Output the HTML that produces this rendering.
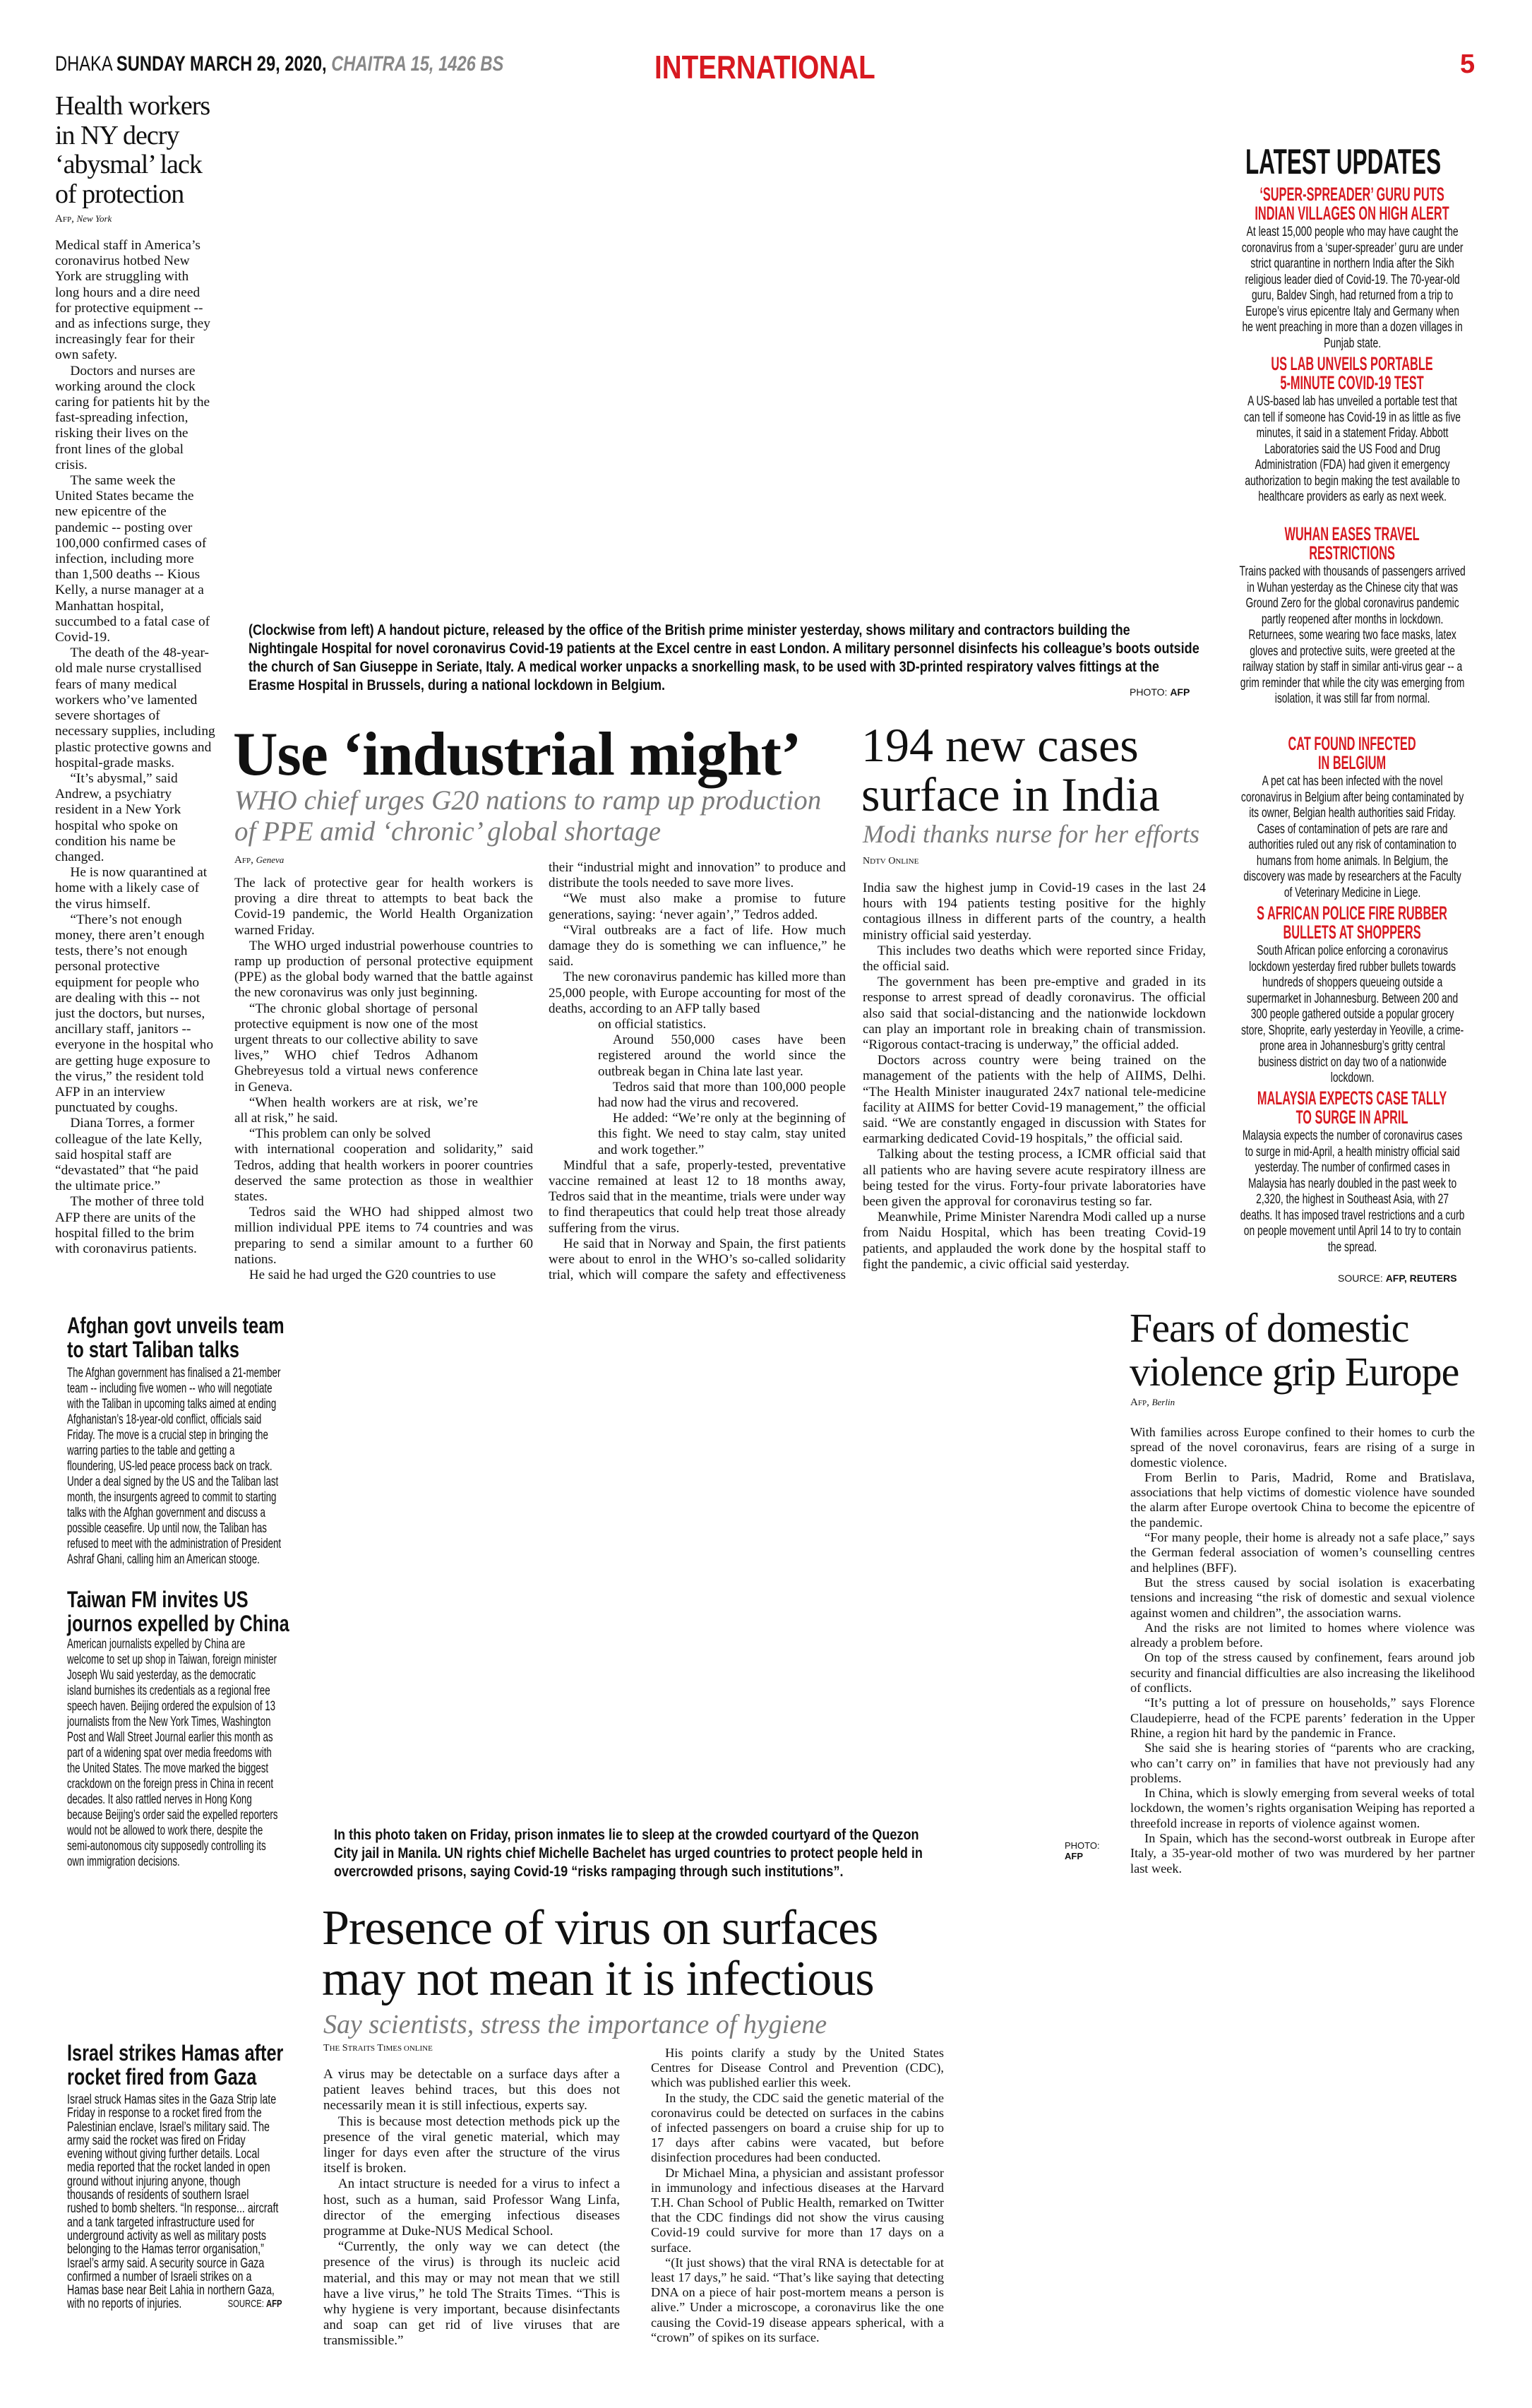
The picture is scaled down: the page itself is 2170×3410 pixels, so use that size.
<!DOCTYPE html>
<html><head><meta charset="utf-8">
<style>
*{margin:0;padding:0;box-sizing:border-box}
body{width:2170px;height:3410px;background:#fff;position:relative;overflow:hidden;color:#111}
.a{position:absolute}
.ser{font-family:"Liberation Serif",serif}
.san{font-family:"Liberation Sans",sans-serif}
.sx{display:block;transform-origin:0 0}
.body{font-family:"Liberation Serif",serif;font-size:19px;line-height:22.2px;text-align:justify;overflow:hidden}
.body p{text-indent:1.1em}
.body p.n{text-indent:0}
.luh{color:#d71920;font-weight:bold;font-size:27px;line-height:27px;text-align:center;font-family:"Liberation Sans",sans-serif;width:496px;transform:scaleX(0.605)}
.lub{font-family:"Liberation Sans",sans-serif;font-size:19px;line-height:22.5px;text-align:center;width:440px;transform:scaleX(0.73);margin-top:2px}
.cap{font-family:"Liberation Sans",sans-serif;font-weight:bold;font-size:21px;line-height:26px;white-space:nowrap;transform:scaleX(0.86);transform-origin:0 0}
.brief{font-family:"Liberation Sans",sans-serif;font-size:19px;line-height:22px;width:436px;transform:scaleX(0.7);transform-origin:0 0}
.bh{font-family:"Liberation Sans",sans-serif;font-weight:bold;font-size:32px;line-height:34px;white-space:nowrap;transform:scaleX(0.79);transform-origin:0 0}
.by{font-family:"Liberation Serif",serif;font-size:15px}
.by i{font-size:13px}
.sub{font-family:"Liberation Serif",serif;font-style:italic;color:#7a7a7a}
</style></head><body>

<!-- header -->
<div class="a san" style="left:78px;top:74px;font-size:30px;white-space:nowrap;transform:scaleX(0.79);transform-origin:0 0">DHAKA <b>SUNDAY MARCH 29, 2020,</b> <b><i style="color:#888">CHAITRA 15, 1426 BS</i></b></div>
<div class="a san" style="left:927px;top:68px;font-size:46px;font-weight:bold;color:#d71920;white-space:nowrap;transform:scaleX(0.84);transform-origin:0 0">INTERNATIONAL</div>
<div class="a san" style="left:2068px;top:70px;font-size:38px;font-weight:bold;color:#d71920">5</div>

<!-- left column -->
<div class="a ser" style="left:78px;top:130px;width:300px;font-size:38px;line-height:41.5px;letter-spacing:-1px">Health workers<br>in NY decry<br>‘abysmal’ lack<br>of protection</div>
<div class="a by" style="left:78px;top:302px">A<span style="font-size:11px">FP</span>, <i>New York</i></div>
<div class="a body" style="left:78px;top:337px;width:228px;height:1480px;text-align:left;font-size:19.4px">
<p class="n">Medical staff in America’s coronavirus hotbed New York are struggling with long hours and a dire need for protective equipment -- and as infections surge, they increasingly fear for their own safety.</p>
<p>Doctors and nurses are working around the clock caring for patients hit by the fast-spreading infection, risking their lives on the front lines of the global crisis.</p>
<p>The same week the United States became the new epicentre of the pandemic -- posting over 100,000 confirmed cases of infection, including more than 1,500 deaths -- Kious Kelly, a nurse manager at a Manhattan hospital, succumbed to a fatal case of Covid-19.</p>
<p>The death of the 48-year-old male nurse crystallised fears of many medical workers who’ve lamented severe shortages of necessary supplies, including plastic protective gowns and hospital-grade masks.</p>
<p>“It’s abysmal,” said Andrew, a psychiatry resident in a New York hospital who spoke on condition his name be changed.</p>
<p>He is now quarantined at home with a likely case of the virus himself.</p>
<p>“There’s not enough money, there aren’t enough tests, there’s not enough personal protective equipment for people who are dealing with this -- not just the doctors, but nurses, ancillary staff, janitors -- everyone in the hospital who are getting huge exposure to the virus,” the resident told AFP in an interview punctuated by coughs.</p>
<p>Diana Torres, a former colleague of the late Kelly, said hospital staff are “devastated” that “he paid the ultimate price.”</p>
<p>The mother of three told AFP there are units of the hospital filled to the brim with coronavirus patients.</p>
</div>

<!-- caption 1 -->
<div class="a cap" style="left:352px;top:880px">(Clockwise from left) A handout picture, released by the office of the British prime minister yesterday, shows military and contractors building the<br>Nightingale Hospital for novel coronavirus Covid-19 patients at the Excel centre in east London. A military personnel disinfects his colleague’s boots outside<br>the church of San Giuseppe in Seriate, Italy. A medical worker unpacks a snorkelling mask, to be used with 3D-printed respiratory valves fittings at the<br>Erasme Hospital in Brussels, during a national lockdown in Belgium.</div>
<div class="a san" style="left:1600px;top:972px;font-size:14px;white-space:nowrap">PHOTO: <b>AFP</b></div>

<!-- latest updates -->
<div class="a san" style="left:1764px;top:200px;font-size:50px;font-weight:bold;white-space:nowrap;transform:scaleX(0.63);transform-origin:0 0">LATEST UPDATES</div>
<div class="a" style="left:1745px;top:262px;width:340px">
<div class="sx luh" style="margin-left:20px">‘SUPER-SPREADER’ GURU PUTS<br>INDIAN VILLAGES ON HIGH ALERT</div>
<div class="sx lub" style="margin-left:10px">At least 15,000 people who may have caught the coronavirus from a ‘super-spreader’ guru are under strict quarantine in northern India after the Sikh religious leader died of Covid-19. The 70-year-old guru, Baldev Singh, had returned from a trip to Europe’s virus epicentre Italy and Germany when he went preaching in more than a dozen villages in Punjab state.</div>
</div>
<div class="a" style="left:1745px;top:502px;width:340px">
<div class="sx luh" style="margin-left:20px">US LAB UNVEILS PORTABLE<br>5-MINUTE COVID-19 TEST</div>
<div class="sx lub" style="margin-left:10px">A US-based lab has unveiled a portable test that can tell if someone has Covid-19 in as little as five minutes, it said in a statement Friday. Abbott Laboratories said the US Food and Drug Administration (FDA) had given it emergency authorization to begin making the test available to healthcare providers as early as next week.</div>
</div>
<div class="a" style="left:1745px;top:743px;width:340px">
<div class="sx luh" style="margin-left:20px">WUHAN EASES TRAVEL<br>RESTRICTIONS</div>
<div class="sx lub" style="margin-left:10px">Trains packed with thousands of passengers arrived in Wuhan yesterday as the Chinese city that was Ground Zero for the global coronavirus pandemic partly reopened after months in lockdown. Returnees, some wearing two face masks, latex gloves and protective suits, were greeted at the railway station by staff in similar anti-virus gear -- a grim reminder that while the city was emerging from isolation, it was still far from normal.</div>
</div>
<div class="a" style="left:1745px;top:1040px;width:340px">
<div class="sx luh" style="margin-left:20px">CAT FOUND INFECTED<br>IN BELGIUM</div>
<div class="sx lub" style="margin-left:10px">A pet cat has been infected with the novel coronavirus in Belgium after being contaminated by its owner, Belgian health authorities said Friday. Cases of contamination of pets are rare and authorities ruled out any risk of contamination to humans from home animals. In Belgium, the discovery was made by researchers at the Faculty of Veterinary Medicine in Liege.</div>
</div>
<div class="a" style="left:1745px;top:1280px;width:340px">
<div class="sx luh" style="margin-left:20px">S AFRICAN POLICE FIRE RUBBER<br>BULLETS AT SHOPPERS</div>
<div class="sx lub" style="margin-left:10px">South African police enforcing a coronavirus lockdown yesterday fired rubber bullets towards hundreds of shoppers queueing outside a supermarket in Johannesburg. Between 200 and 300 people gathered outside a popular grocery store, Shoprite, early yesterday in Yeoville, a crime-prone area in Johannesburg’s gritty central business district on day two of a nationwide lockdown.</div>
</div>
<div class="a" style="left:1745px;top:1542px;width:340px">
<div class="sx luh" style="margin-left:20px">MALAYSIA EXPECTS CASE TALLY<br>TO SURGE IN APRIL</div>
<div class="sx lub" style="margin-left:10px">Malaysia expects the number of coronavirus cases to surge in mid-April, a health ministry official said yesterday. The number of confirmed cases in Malaysia has nearly doubled in the past week to 2,320, the highest in Southeast Asia, with 27 deaths. It has imposed travel restrictions and a curb on people movement until April 14 to try to contain the spread.</div>
</div>
<div class="a san" style="left:1895px;top:1802px;font-size:14px;white-space:nowrap">SOURCE: <b>AFP, REUTERS</b></div>

<!-- Use industrial might -->
<div class="a ser" style="left:330px;top:1018px;font-size:88px;font-weight:bold;white-space:nowrap;letter-spacing:-1px">Use ‘industrial might’</div>
<div class="a sub" style="left:332px;top:1112px;font-size:39px;line-height:44px;white-space:nowrap">WHO chief urges G20 nations to ramp up production<br>of PPE amid ‘chronic’ global shortage</div>
<div class="a by" style="left:332px;top:1210px">A<span style="font-size:11px">FP</span>, <i>Geneva</i></div>
<div class="a body" style="left:332px;top:1240px;width:423px;height:578px">
<p class="n">The lack of protective gear for health workers is proving a dire threat to attempts to beat back the Covid-19 pandemic, the World Health Organization warned Friday.</p>
<p>The WHO urged industrial powerhouse countries to ramp up production of personal protective equipment (PPE) as the global body warned that the battle against the new coronavirus was only just beginning.</p>
<div style="width:345px"><p>“The chronic global shortage of personal protective equipment is now one of the most urgent threats to our collective ability to save lives,” WHO chief Tedros Adhanom Ghebreyesus told a virtual news conference in Geneva.</p>
<p>“When health workers are at risk, we’re all at risk,” he said.</p>
<p>“This problem can only be solved</p></div>
<p class="n">with international cooperation and solidarity,” said Tedros, adding that health workers in poorer countries deserved the same protection as those in wealthier states.</p>
<p>Tedros said the WHO had shipped almost two million individual PPE items to 74 countries and was preparing to send a similar amount to a further 60 nations.</p>
<p>He said he had urged the G20 countries to use</p>
</div>
<div class="a body" style="left:777px;top:1218px;width:421px;height:600px;font-size:19px">
<p class="n">their “industrial might and innovation” to produce and distribute the tools needed to save more lives.</p>
<p>“We must also make a promise to future generations, saying: ‘never again’,” Tedros added.</p>
<p>“Viral outbreaks are a fact of life. How much damage they do is something we can influence,” he said.</p>
<p>The new coronavirus pandemic has killed more than 25,000 people, with Europe accounting for most of the deaths, according to an AFP tally based</p>
<div style="margin-left:70px"><p class="n">on official statistics.</p>
<p>Around 550,000 cases have been registered around the world since the outbreak began in China late last year.</p>
<p>Tedros said that more than 100,000 people had now had the virus and recovered.</p>
<p>He added: “We’re only at the beginning of this fight. We need to stay calm, stay united and work together.”</p></div>
<p>Mindful that a safe, properly-tested, preventative vaccine remained at least 12 to 18 months away, Tedros said that in the meantime, trials were under way to find therapeutics that could help treat those already suffering from the virus.</p>
<p>He said that in Norway and Spain, the first patients were about to enrol in the WHO’s so-called solidarity trial, which will compare the safety and effectiveness of four different drugs or drug combinations.</p>
</div>

<!-- India -->
<div class="a ser" style="left:1220px;top:1020px;font-size:68px;line-height:70px;white-space:nowrap">194 new cases<br>surface in India</div>
<div class="a sub" style="left:1222px;top:1160px;font-size:36px;white-space:nowrap">Modi thanks nurse for her efforts</div>
<div class="a by" style="left:1222px;top:1212px;font-size:14px">N<span style="font-size:11px">DTV</span> O<span style="font-size:11px">NLINE</span></div>
<div class="a body" style="left:1222px;top:1247px;width:486px;height:570px;font-size:19px">
<p class="n">India saw the highest jump in Covid-19 cases in the last 24 hours with 194 patients testing positive for the highly contagious illness in different parts of the country, a health ministry official said yesterday.</p>
<p>This includes two deaths which were reported since Friday, the official said.</p>
<p>The government has been pre-emptive and graded in its response to arrest spread of deadly coronavirus. The official also said that social-distancing and the nationwide lockdown can play an important role in breaking chain of transmission. “Rigorous contact-tracing is underway,” the official added.</p>
<p>Doctors across country were being trained on the management of the patients with the help of AIIMS, Delhi. “The Health Minister inaugurated 24x7 national tele-medicine facility at AIIMS for better Covid-19 management,” the official said. “We are constantly engaged in discussion with States for earmarking dedicated Covid-19 hospitals,” the official said.</p>
<p>Talking about the testing process, a ICMR official said that all patients who are having severe acute respiratory illness are being tested for the virus. Forty-four private laboratories have been given the approval for coronavirus testing so far.</p>
<p>Meanwhile, Prime Minister Narendra Modi called up a nurse from Naidu Hospital, which has been treating Covid-19 patients, and applauded the work done by the hospital staff to fight the pandemic, a civic official said yesterday.</p>
</div>

<!-- Afghan -->
<div class="a bh" style="left:95px;top:1860px">Afghan govt unveils team<br>to start Taliban talks</div>
<div class="a brief" style="left:95px;top:1934px">The Afghan government has finalised a 21-member team -- including five women -- who will negotiate with the Taliban in upcoming talks aimed at ending Afghanistan’s 18-year-old conflict, officials said Friday. The move is a crucial step in bringing the warring parties to the table and getting a floundering, US-led peace process back on track. Under a deal signed by the US and the Taliban last month, the insurgents agreed to commit to starting talks with the Afghan government and discuss a possible ceasefire. Up until now, the Taliban has refused to meet with the administration of President Ashraf Ghani, calling him an American stooge.</div>
<div class="a bh" style="left:95px;top:2248px">Taiwan FM invites US<br>journos expelled by China</div>
<div class="a brief" style="left:95px;top:2318px">American journalists expelled by China are welcome to set up shop in Taiwan, foreign minister Joseph Wu said yesterday, as the democratic island burnishes its credentials as a regional free speech haven. Beijing ordered the expulsion of 13 journalists from the New York Times, Washington Post and Wall Street Journal earlier this month as part of a widening spat over media freedoms with the United States. The move marked the biggest crackdown on the foreign press in China in recent decades. It also rattled nerves in Hong Kong because Beijing’s order said the expelled reporters would not be allowed to work there, despite the semi-autonomous city supposedly controlling its own immigration decisions.</div>

<!-- caption 2 -->
<div class="a cap" style="left:473px;top:2586px">In this photo taken on Friday, prison inmates lie to sleep at the crowded courtyard of the Quezon<br>City jail in Manila. UN rights chief Michelle Bachelet has urged countries to protect people held in<br>overcrowded prisons, saying Covid-19 “risks rampaging through such institutions”.</div>
<div class="a san" style="left:1508px;top:2606px;font-size:13px;line-height:15px">PHOTO:<br><b>AFP</b></div>

<!-- Fears -->
<div class="a ser" style="left:1600px;top:1850px;font-size:58px;line-height:62px;white-space:nowrap;letter-spacing:-1px">Fears of domestic<br>violence grip Europe</div>
<div class="a by" style="left:1601px;top:1978px">A<span style="font-size:11px">FP</span>, <i>Berlin</i></div>
<div class="a body" style="left:1601px;top:2018px;width:488px;height:650px;font-size:18.3px;line-height:21.3px">
<p class="n">With families across Europe confined to their homes to curb the spread of the novel coronavirus, fears are rising of a surge in domestic violence.</p>
<p>From Berlin to Paris, Madrid, Rome and Bratislava, associations that help victims of domestic violence have sounded the alarm after Europe overtook China to become the epicentre of the pandemic.</p>
<p>“For many people, their home is already not a safe place,” says the German federal association of women’s counselling centres and helplines (BFF).</p>
<p>But the stress caused by social isolation is exacerbating tensions and increasing “the risk of domestic and sexual violence against women and children”, the association warns.</p>
<p>And the risks are not limited to homes where violence was already a problem before.</p>
<p>On top of the stress caused by confinement, fears around job security and financial difficulties are also increasing the likelihood of conflicts.</p>
<p>“It’s putting a lot of pressure on households,” says Florence Claudepierre, head of the FCPE parents’ federation in the Upper Rhine, a region hit hard by the pandemic in France.</p>
<p>She said she is hearing stories of “parents who are cracking, who can’t carry on” in families that have not previously had any problems.</p>
<p>In China, which is slowly emerging from several weeks of total lockdown, the women’s rights organisation Weiping has reported a threefold increase in reports of violence against women.</p>
<p>In Spain, which has the second-worst outbreak in Europe after Italy, a 35-year-old mother of two was murdered by her partner last week.</p>
</div>

<!-- Presence -->
<div class="a ser" style="left:456px;top:2695px;font-size:70px;line-height:72px;white-space:nowrap;letter-spacing:-1px">Presence of virus on surfaces<br>may not mean it is infectious</div>
<div class="a sub" style="left:458px;top:2845px;font-size:38px;white-space:nowrap">Say scientists, stress the importance of hygiene</div>
<div class="a by" style="left:458px;top:2893px;font-size:14px">T<span style="font-size:11px">HE</span> S<span style="font-size:11px">TRAITS</span> T<span style="font-size:11px">IMES ONLINE</span></div>
<div class="a body" style="left:458px;top:2927px;width:420px;height:400px">
<p class="n">A virus may be detectable on a surface days after a patient leaves behind traces, but this does not necessarily mean it is still infectious, experts say.</p>
<p>This is because most detection methods pick up the presence of the viral genetic material, which may linger for days even after the structure of the virus itself is broken.</p>
<p>An intact structure is needed for a virus to infect a host, such as a human, said Professor Wang Linfa, director of the emerging infectious diseases programme at Duke-NUS Medical School.</p>
<p>“Currently, the only way we can detect (the presence of the virus) is through its nucleic acid material, and this may or may not mean that we still have a live virus,” he told The Straits Times. “This is why hygiene is very important, because disinfectants and soap can get rid of live viruses that are transmissible.”</p>
</div>
<div class="a body" style="left:922px;top:2897px;width:415px;height:440px;font-size:18.3px;line-height:21.2px">
<p>His points clarify a study by the United States Centres for Disease Control and Prevention (CDC), which was published earlier this week.</p>
<p>In the study, the CDC said the genetic material of the coronavirus could be detected on surfaces in the cabins of infected passengers on board a cruise ship for up to 17 days after cabins were vacated, but before disinfection procedures had been conducted.</p>
<p>Dr Michael Mina, a physician and assistant professor in immunology and infectious diseases at the Harvard T.H. Chan School of Public Health, remarked on Twitter that the CDC findings did not show the virus causing Covid-19 could survive for more than 17 days on a surface.</p>
<p>“(It just shows) that the viral RNA is detectable for at least 17 days,” he said. “That’s like saying that detecting DNA on a piece of hair post-mortem means a person is alive.” Under a microscope, a coronavirus like the one causing the Covid-19 disease appears spherical, with a “crown” of spikes on its surface.</p>
</div>

<!-- Israel -->
<div class="a bh" style="left:95px;top:2890px">Israel strikes Hamas after<br>rocket fired from Gaza</div>
<div class="a brief" style="left:95px;top:2964px;font-size:19px;line-height:19.3px;width:406px;transform:scaleX(0.75)">Israel struck Hamas sites in the Gaza Strip late Friday in response to a rocket fired from the Palestinian enclave, Israel’s military said. The army said the rocket was fired on Friday evening without giving further details. Local media reported that the rocket landed in open ground without injuring anyone, though thousands of residents of southern Israel rushed to bomb shelters. “In response... aircraft and a tank targeted infrastructure used for underground activity as well as military posts belonging to the Hamas terror organisation,” Israel’s army said. A security source in Gaza confirmed a number of Israeli strikes on a Hamas base near Beit Lahia in northern Gaza, with no reports of injuries. <span style="float:right;font-size:15px">SOURCE: <b>AFP</b></span></div>

</body></html>
